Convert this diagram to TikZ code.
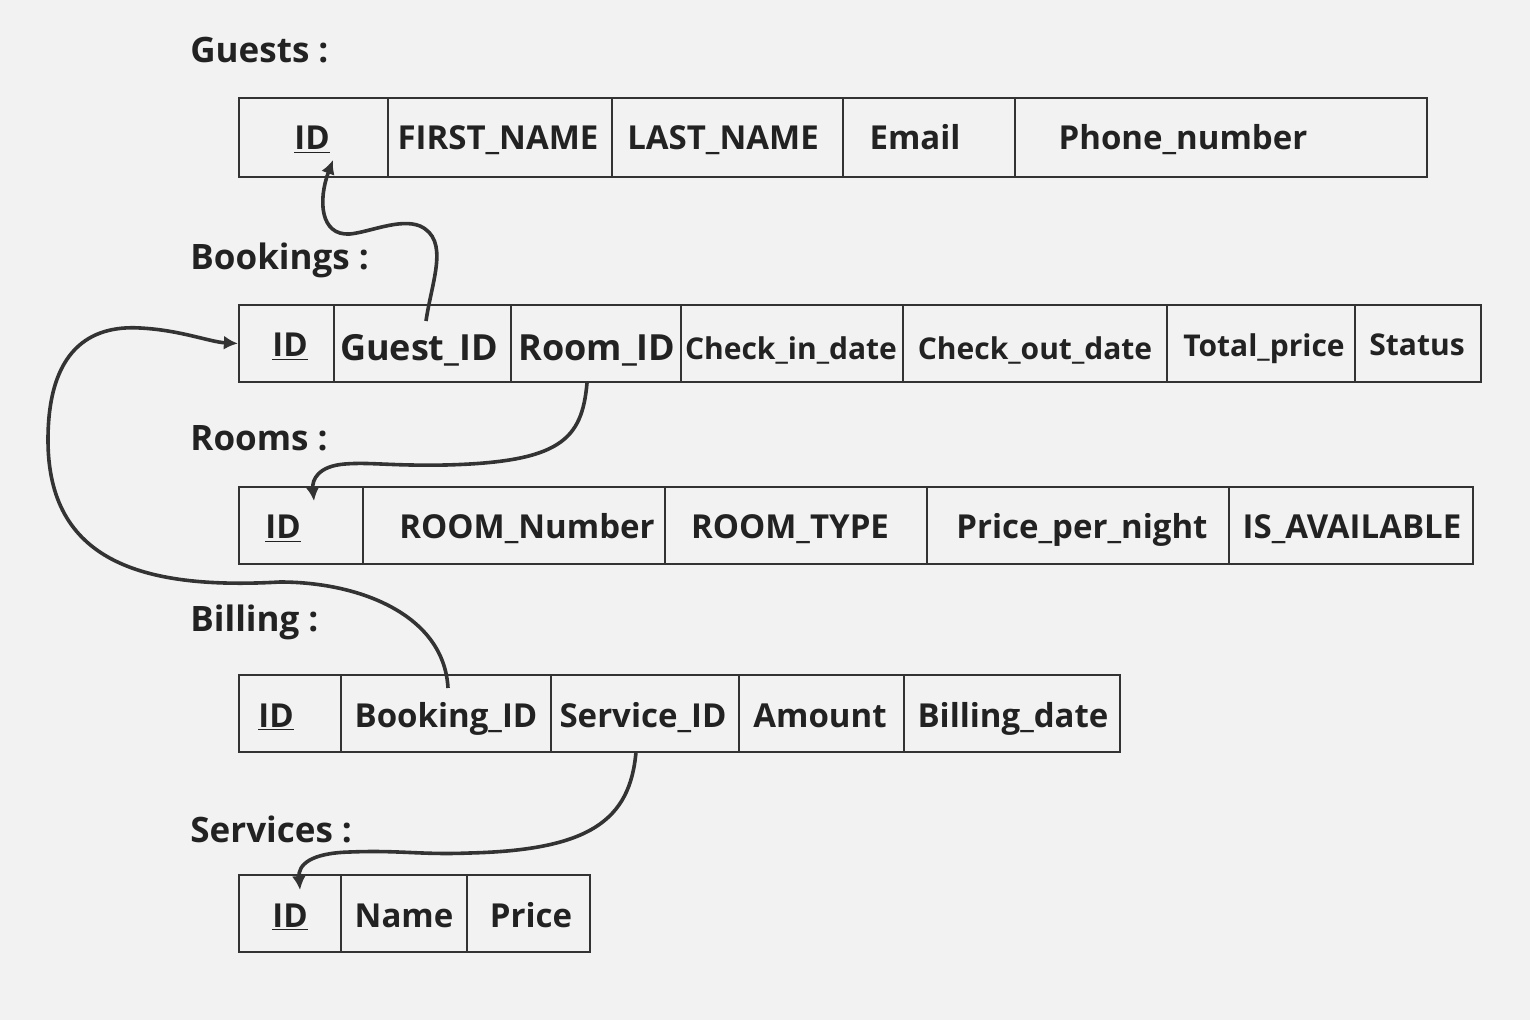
\documentclass[tikz,border=0pt]{standalone}
\usepackage{fontspec}
\setmainfont{Open Sans}
\usetikzlibrary{fit,arrows.meta}
\definecolor{bgc}{HTML}{F2F2F2}
\definecolor{ink}{HTML}{333333}
\definecolor{txc}{HTML}{222222}
\newcommand\mycell[9]{%
  \node[cell, fit={(#2,#4) (#3,#5)}] (#1) {};
  \node[ftxt, #8] (#1t) at (#6,#7) {#9};}
\begin{document}
\begin{tikzpicture}[x=0.5pt,y=-0.5pt,
  cell/.style={draw=ink, line width=1.1pt, inner sep=0pt},
  ftxt/.style={anchor=base, inner sep=0pt, text=txc, font=\fontsize{16.5}{20}\selectfont\bfseries},
  big/.style={font=\fontsize{18}{22}\selectfont\bfseries},
  small/.style={font=\fontsize{15}{18}\selectfont\bfseries},
  ttl/.style={anchor=base west, inner sep=0pt, text=txc, font=\fontsize{17.5}{21}\selectfont\bfseries},
  link/.style={draw=ink, line width=1.8pt, -{Latex[length=7pt,width=7pt]}}]
\fill[bgc] (0,0) rectangle (1530,1020);
\useasboundingbox (0,0) rectangle (1530,1020);

% titles
\node[ttl] (tg) at (190,63) {Guests :};
\node[ttl] (tb) at (190,270) {Bookings :};
\node[ttl] (tr) at (190,451) {Rooms :};
\node[ttl] (tl) at (190,632) {Billing :};
\node[ttl] (ts) at (190,842) {Services :};

% Guests
\mycell{g1}{239}{388}{98}{177}{312}{150}{}{\underline{ID}}
\mycell{g2}{388}{612}{98}{177}{498}{150}{}{FIRST\_NAME}
\mycell{g3}{612}{843}{98}{177}{723}{150}{}{LAST\_NAME}
\mycell{g4}{843}{1015}{98}{177}{915}{150}{}{Email}
\mycell{g5}{1015}{1427}{98}{177}{1183}{150}{}{Phone\_number}

% Bookings
\mycell{b1}{239}{334}{305}{382}{290}{357}{}{\underline{ID}}
\mycell{b2}{334}{511}{305}{382}{419}{361}{big}{Guest\_ID}
\mycell{b3}{511}{681}{305}{382}{597}{361}{big}{Room\_ID}
\mycell{b4}{681}{903}{305}{382}{791}{360}{small}{Check\_in\_date}
\mycell{b5}{903}{1167}{305}{382}{1035}{360}{small}{Check\_out\_date}
\mycell{b6}{1167}{1355}{305}{382}{1264}{357}{small}{Total\_price}
\mycell{b7}{1355}{1481}{305}{382}{1417}{356}{small}{Status}

% Rooms
\mycell{r1}{239}{363}{487}{564}{283}{539}{}{\underline{ID}}
\mycell{r2}{363}{665}{487}{564}{527}{539}{}{ROOM\_Number}
\mycell{r3}{665}{927}{487}{564}{790}{539}{}{ROOM\_TYPE}
\mycell{r4}{927}{1229}{487}{564}{1082}{539}{}{Price\_per\_night}
\mycell{r5}{1229}{1473}{487}{564}{1352}{539}{}{IS\_AVAILABLE}

% Billing
\mycell{l1}{239}{341}{675}{752}{276}{727}{}{\underline{ID}}
\mycell{l2}{341}{551}{675}{752}{446}{727}{}{Booking\_ID}
\mycell{l3}{551}{739}{675}{752}{643}{727}{}{Service\_ID}
\mycell{l4}{739}{904}{675}{752}{820}{727}{}{Amount}
\mycell{l5}{904}{1120}{675}{752}{1013}{727}{}{Billing\_date}

% Services
\mycell{s1}{239}{341}{875}{952}{290}{927}{}{\underline{ID}}
\mycell{s2}{341}{467}{875}{952}{404}{927}{}{Name}
\mycell{s3}{467}{590}{875}{952}{531}{927}{}{Price}

% connector end points
\coordinate (c1s) at (426,321);
\coordinate (c1e) at (333,160);
\coordinate (c2s) at (587,383);
\coordinate (c2e) at (314,501);
\coordinate (c3s) at (448,688);
\coordinate (c3e) at (b1.west);
\coordinate (c4s) at (636,752);
\coordinate (c4e) at (300,890);

\draw[link] (c1s) .. controls (432,280) and (450,240) .. (420,226)
  .. controls (400,218) and (370,232) .. (350,234)
  .. controls (320,236) and (318,200) .. (c1e);
\draw[link] (c2s) .. controls (582,440) and (560,462) .. (446,465)
  .. controls (390,466) and (370,462) .. (345,464)
  .. controls (318,466) and (312,480) .. (c2e);
\draw[link] (c3s) .. controls (444,615) and (360,582) .. (280,582)
  .. controls (140,590) and (48,560) .. (48,440)
  .. controls (48,350) and (90,325) .. (140,328)
  .. controls (180,330) and (210,342) .. (c3e);
\draw[link] (c4s) .. controls (630,820) and (590,850) .. (470,853)
  .. controls (420,855) and (400,850) .. (350,852)
  .. controls (310,853) and (298,865) .. (c4e);
\end{tikzpicture}
\end{document}
